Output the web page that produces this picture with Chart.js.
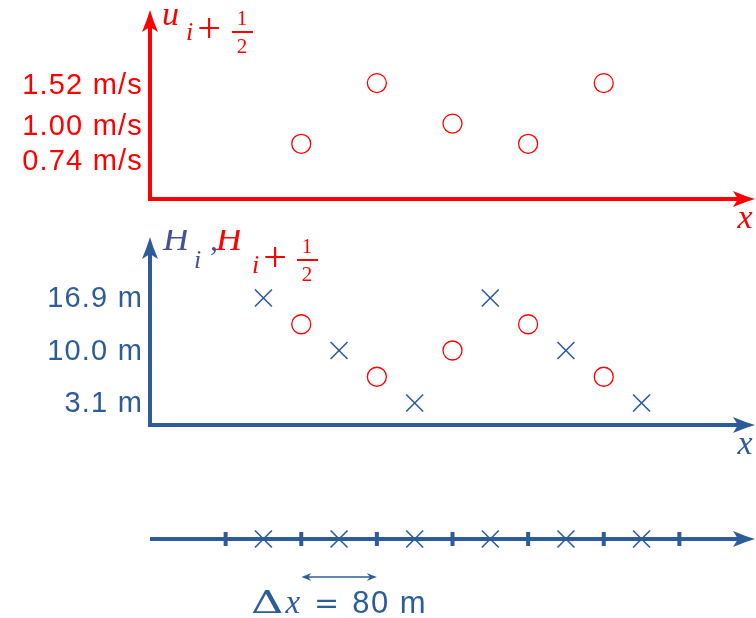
<!DOCTYPE html>
<html><head><meta charset="utf-8">
<script src="https://cdn.jsdelivr.net/npm/chart.js@4"></script>
<style>
html,body{margin:0;padding:0;background:#fff;overflow:hidden;}
#wrap{position:relative;width:756px;height:618px;overflow:hidden;}
canvas{position:absolute;left:0;}
</style></head><body>
<div id="wrap">
<canvas id="cU" width="756" height="230" style="top:0"></canvas>
<canvas id="cH" width="756" height="240" style="top:230px"></canvas>
<canvas id="cG" width="756" height="148" style="top:470px"></canvas>
</div>
<script>
// ---- data ----
const cellIndex = [0, 1, 2, 3, 4, 5];              // cell centres i
const faceIndex = [0.5, 1.5, 2.5, 3.5, 4.5];        // faces i+1/2
const gridFaces = [-0.5, 0.5, 1.5, 2.5, 3.5, 4.5, 5.5];
const uFace = [0.74, 1.52, 1.00, 0.74, 1.52];       // u_{i+1/2} (m/s)
const hCell = [16.9, 10.0, 3.1, 16.9, 10.0, 3.1];   // H_i (m)
const hFace = [13.45, 6.55, 10.0, 13.45, 6.55];     // H_{i+1/2} (m)
const uTickLabels = ['1.52 m/s', '1.00 m/s', '0.74 m/s'];
const uTickAt = [1.52, 1.00, 0.54];                 // where the labels sit on the u axis
const hTickLabels = ['16.9 m', '10.0 m', '3.1 m'];
const hTickAt = [16.9, 10.0, 3.1];
const dxText = '80 m';

// ---- style ----
const RED = '#ff0000', BLUE = '#2c5c9a', PURPLE = '#48509a';
const SERIF = '"Liberation Serif", "DejaVu Serif", serif';
const SANS = '"Liberation Sans", Arial, sans-serif';
const X_RANGE = { min: -1.5, max: 6.5 };

function pts(xs, ys) { return xs.map((x, i) => ({ x: x, y: ys[i] })); }

function arrowHead(ctx, tx, ty, dir, color, len, half, notch) {
  ctx.save();
  ctx.translate(tx, ty);
  if (dir === 'up') ctx.rotate(-Math.PI / 2);
  if (dir === 'left') ctx.rotate(Math.PI);
  ctx.beginPath();
  ctx.moveTo(0, 0);
  ctx.quadraticCurveTo(-len * 0.45, -half * 0.35, -len, -half);
  ctx.lineTo(-len + notch, 0);
  ctx.lineTo(-len, half);
  ctx.quadraticCurveTo(-len * 0.45, half * 0.35, 0, 0);
  ctx.closePath();
  ctx.fillStyle = color;
  ctx.fill();
  ctx.restore();
}

const spacingPlugin = {
  id: 'spacing',
  beforeDraw(chart) { if ('letterSpacing' in chart.ctx) chart.ctx.letterSpacing = '1.2px'; }
};

function axesPlugin(color, drawY, xLabel, axisValue, extra) {
  return {
    id: 'axes',
    beforeDatasetsDraw(chart) {
      const ctx = chart.ctx, a = chart.chartArea;
      const y0 = axisValue === null ? a.bottom : chart.scales.y.getPixelForValue(axisValue);
      ctx.save();
      if ('letterSpacing' in ctx) ctx.letterSpacing = '0px';
      ctx.strokeStyle = color;
      ctx.lineWidth = 4;
      ctx.beginPath();
      ctx.moveTo(drawY ? a.left - 2 : a.left, y0);
      ctx.lineTo(a.right - 14, y0);
      ctx.stroke();
      arrowHead(ctx, a.right, y0, 'right', color, 22, 8, 5);
      if (drawY) {
        ctx.beginPath();
        ctx.moveTo(a.left, a.bottom + 2);
        ctx.lineTo(a.left, a.top + 14);
        ctx.stroke();
        arrowHead(ctx, a.left, a.top, 'up', color, 22, 8, 5);
      }
      if (xLabel) {
        ctx.font = 'italic 34px ' + SERIF;
        ctx.fillStyle = color;
        ctx.textAlign = 'center';
        ctx.textBaseline = 'alphabetic';
        ctx.fillText('x', a.right - 10, y0 + 29);
      }
      if (extra) extra(chart, ctx, a, y0);
      ctx.restore();
    }
  };
}

function txt(ctx, s, font, color, x, y, align) {
  ctx.font = font;
  ctx.fillStyle = color;
  ctx.textAlign = align || 'left';
  ctx.textBaseline = 'alphabetic';
  ctx.fillText(s, x, y);
}
function plus(ctx, color, left, centerY) {
  // math "+" sized like the reference
  txt(ctx, '+', '42px ' + SERIF, color, left + 12, centerY + 10, 'center');
}
function frac(ctx, color, cx, barY) {
  txt(ctx, '1', '21px ' + SERIF, color, cx, barY - 7, 'center');
  txt(ctx, '2', '21px ' + SERIF, color, cx, barY + 21, 'center');
  ctx.fillStyle = color;
  ctx.fillRect(cx - 10, barY - 1, 21, 2);
}

function yAxis(min, max, tickAt, labels, color, offset) {
  return {
    min: min, max: max,
    grid: { display: false, drawTicks: false },
    border: { display: false },
    afterBuildTicks(s) { s.ticks = tickAt.map(v => ({ value: v })); },
    afterFit(s) { s.width = 150; s.paddingTop = 0; s.paddingBottom = 0; },
    ticks: {
      autoSkip: false, padding: 7, color: color, labelOffset: offset,
      font: { family: SANS, size: 29 },
      callback: (v, i) => labels[i]
    }
  };
}

function baseOptions(yOpts, padding) {
  return {
    responsive: false, animation: false, events: [],
    layout: { padding: padding, autoPadding: false },
    plugins: { legend: { display: false }, tooltip: { enabled: false } },
    scales: {
      x: { type: 'linear', min: X_RANGE.min, max: X_RANGE.max, display: false },
      y: yOpts
    }
  };
}

const circleSet = (data) => ({
  data: data, pointStyle: 'circle', pointRadius: 9.5, pointBorderWidth: 1.3,
  pointBorderColor: RED, pointBackgroundColor: 'rgba(0,0,0,0)', clip: false
});
const crossSet = (data) => ({
  data: data, pointStyle: 'crossRot', pointRadius: 12, pointBorderWidth: 1.6,
  pointBorderColor: BLUE, pointBackgroundColor: BLUE, clip: false
});

// ---- top panel: u ----
new Chart(document.getElementById('cU'), {
  type: 'scatter',
  data: { datasets: [circleSet(pts(faceIndex, uFace))] },
  options: baseOptions(yAxis(0.03, 2.46, uTickAt, uTickLabels, RED, 3), { top: 10, bottom: 31, left: 0, right: 1 }),
  plugins: [spacingPlugin, axesPlugin(RED, true, true, null, (chart, ctx, a) => {
    const L = a.left, T = a.top;
    txt(ctx, 'u', 'italic 34px ' + SERIF, RED, L + 12, T + 15);
    txt(ctx, 'i', 'italic 26px ' + SERIF, RED, L + 36, T + 30);
    plus(ctx, RED, L + 47, T + 22);
    frac(ctx, RED, L + 92, T + 22);
  })]
});

// ---- middle panel: H ----
new Chart(document.getElementById('cH'), {
  type: 'scatter',
  data: { datasets: [crossSet(pts(cellIndex, hCell)), circleSet(pts(faceIndex, hFace))] },
  options: baseOptions(yAxis(0.21, 24.92, hTickAt, hTickLabels, BLUE, 1), { top: 7, bottom: 45, left: 0, right: 1 }),
  plugins: [spacingPlugin, axesPlugin(BLUE, true, true, null, (chart, ctx, a) => {
    const L = a.left, T = a.top;
    txt(ctx, 'H', 'italic 36px ' + SERIF, PURPLE, L + 13, T + 13);
    txt(ctx, 'i', 'italic 26px ' + SERIF, PURPLE, L + 44, T + 31);
    txt(ctx, ',', '32px ' + SERIF, PURPLE, L + 60, T + 13);
    txt(ctx, 'H', 'italic 36px ' + SERIF, RED, L + 66, T + 13);
    txt(ctx, 'i', 'italic 26px ' + SERIF, RED, L + 102, T + 36);
    plus(ctx, RED, L + 113, T + 24);
    frac(ctx, RED, L + 157, T + 23);
  })]
});

// ---- bottom panel: grid ----
new Chart(document.getElementById('cG'), {
  type: 'scatter',
  data: { datasets: [
    { data: pts(gridFaces, gridFaces.map(() => 0)), pointStyle: 'line', rotation: 90, pointRadius: 7,
      pointBorderWidth: 4, pointBorderColor: BLUE, clip: false },
    crossSet(pts(cellIndex, cellIndex.map(() => 0)))
  ] },
  options: baseOptions({ min: -1, max: 1, display: false }, { top: 0, bottom: 10, left: 150, right: 1 }),
  plugins: [axesPlugin(BLUE, false, false, 0, (chart, ctx, a, y0) => {
    const xs = chart.scales.x;
    const x1 = xs.getPixelForValue(faceIndex[0]), x2 = xs.getPixelForValue(faceIndex[1]);
    const ay = y0 + 38;
    ctx.strokeStyle = BLUE; ctx.lineWidth = 1.5;
    ctx.beginPath(); ctx.moveTo(x1 + 4, ay); ctx.lineTo(x2 - 4, ay); ctx.stroke();
    arrowHead(ctx, x2, ay, 'right', BLUE, 10, 4, 3);
    arrowHead(ctx, x1, ay, 'left', BLUE, 10, 4, 3);
    // label "Δx = 80 m", centred under the arrow
    const parts = [
      { s: 'Δ', f: '31px "DejaVu Serif", serif', gap: 2, sx: 1.45, ls: '0px' },
      { s: 'x', f: 'italic 33px ' + SERIF, gap: 14, sx: 1, ls: '0px' },
      { s: '=', f: '30px "DejaVu Serif", serif', gap: 13, sx: 1, ls: '0px' },
      { s: dxText, f: '31px ' + SANS, gap: 0, sx: 1, ls: '1.5px' }
    ];
    let total = 0;
    parts.forEach(p => {
      ctx.font = p.f;
      if ('letterSpacing' in ctx) ctx.letterSpacing = p.ls;
      p.w = ctx.measureText(p.s).width * p.sx;
      total += p.w + p.gap;
    });
    let x = (x1 + x2) / 2 - total / 2;
    const by = y0 + 74;
    parts.forEach(p => {
      ctx.save();
      if ('letterSpacing' in ctx) ctx.letterSpacing = p.ls;
      ctx.translate(x, by);
      ctx.scale(p.sx, 1);
      txt(ctx, p.s, p.f, BLUE, 0, 0);
      ctx.restore();
      x += p.w + p.gap;
    });
  })]
});
</script>
</body></html>
